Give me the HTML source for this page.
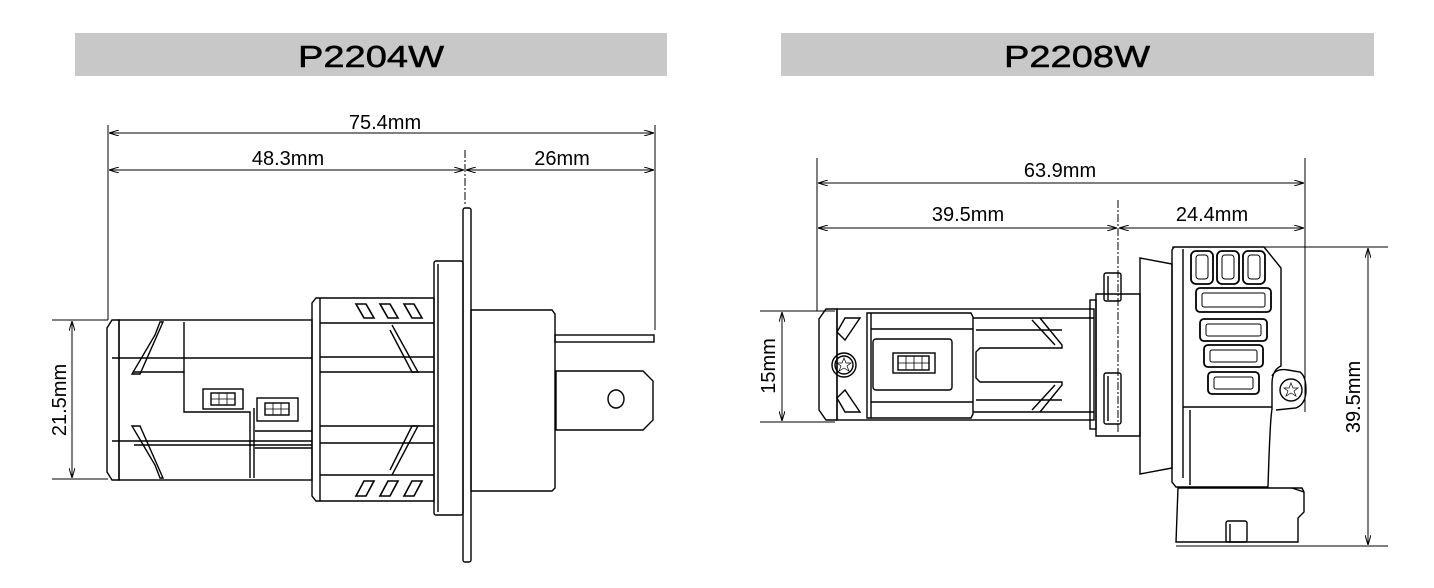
<!DOCTYPE html>
<html><head><meta charset="utf-8"><style>
html,body{margin:0;padding:0;background:#fff}
svg{display:block}
text{font-family:"Liberation Sans",sans-serif;fill:#000}
</style></head><body>
<svg width="1434" height="588" viewBox="0 0 1434 588" xmlns="http://www.w3.org/2000/svg">
<defs>
<marker id="a" viewBox="0 0 10 6" refX="10" refY="3" markerWidth="10" markerHeight="6" orient="auto-start-reverse" markerUnits="userSpaceOnUse"><path d="M0,0 L10,3 L0,6" fill="none" stroke="#000" stroke-width="1"/></marker>
</defs>
<rect x="75" y="33" width="592" height="43" fill="#c8c8c8"/>
<rect x="781" y="33" width="593" height="43" fill="#c8c8c8"/>
<text x="298" y="67" font-size="31" textLength="146" lengthAdjust="spacingAndGlyphs" stroke="#000" stroke-width="0.5">P2204W</text>
<text x="1004" y="67" font-size="31" textLength="146" lengthAdjust="spacingAndGlyphs" stroke="#000" stroke-width="0.5">P2208W</text>

<g stroke="#000" stroke-width="1" fill="none">
<line x1="108" y1="125" x2="108" y2="320"/>
<line x1="655" y1="125" x2="655" y2="330"/>
<line x1="465" y1="150" x2="465" y2="205" stroke-dasharray="8,2,2,2"/>
<line x1="109" y1="133" x2="654" y2="133" marker-start="url(#a)" marker-end="url(#a)"/>
<line x1="109" y1="170" x2="464" y2="170" marker-start="url(#a)" marker-end="url(#a)"/>
<line x1="466" y1="170" x2="654" y2="170" marker-start="url(#a)" marker-end="url(#a)"/>
<line x1="52" y1="320" x2="108" y2="320"/>
<line x1="52" y1="479" x2="108" y2="479"/>
<line x1="72" y1="321" x2="72" y2="478" marker-start="url(#a)" marker-end="url(#a)"/>
<line x1="760" y1="311" x2="835" y2="311"/>
<line x1="760" y1="422" x2="835" y2="422"/>
<line x1="782" y1="312" x2="782" y2="421" marker-start="url(#a)" marker-end="url(#a)"/>
<line x1="817" y1="158" x2="817" y2="311"/>
<line x1="1305" y1="158" x2="1305" y2="412"/>
<line x1="1118" y1="200" x2="1118" y2="432" stroke-dasharray="8,2,2,2"/>
<line x1="818" y1="183" x2="1304" y2="183" marker-start="url(#a)" marker-end="url(#a)"/>
<line x1="818" y1="228" x2="1117" y2="228" marker-start="url(#a)" marker-end="url(#a)"/>
<line x1="1119" y1="228" x2="1304" y2="228" marker-start="url(#a)" marker-end="url(#a)"/>
<line x1="1172" y1="247" x2="1388" y2="247"/>
<line x1="1176" y1="546" x2="1388" y2="546"/>
<line x1="1368" y1="248" x2="1368" y2="545" marker-start="url(#a)" marker-end="url(#a)"/>
</g>

<g stroke="#000" stroke-width="1.4" fill="none">
<path d="M112,320 L119,320 L119,480 L112,480 L107,472 L107,328 Z"/>
<rect x="119" y="320" width="193" height="160"/>
<path d="M155,335 L160,322 L163,322 L140,374 L132,374 Z"/>
<path d="M155,465 L160,478 L163,478 L140,426 L132,426 Z"/>
<line x1="112" y1="358" x2="312" y2="358"/>
<line x1="112" y1="441" x2="312" y2="441"/>
<line x1="134" y1="445" x2="312" y2="445"/>
<path d="M184,322 L184,372 L133,372"/>
<path d="M184,372 L184,412 L250,412 L250,478"/>
<path d="M254,408 L254,478"/>
<line x1="255" y1="431" x2="312" y2="431"/>
<line x1="255" y1="448" x2="312" y2="448"/>
<rect x="203" y="389" width="40" height="20"/>
<rect x="257" y="398" width="41" height="23"/>
<rect x="211" y="393" width="24" height="12"/>
<rect x="265" y="403" width="24" height="12"/>
<path d="M219,393v12M227,393v12M211,399h24M273,403v12M281,403v12M265,409h24" stroke-width="0.8"/>
<path d="M316,298 L434,298 L434,501 L316,501 L312,496 L312,303 Z"/>
<line x1="320" y1="298" x2="320" y2="501"/>
<line x1="320" y1="323" x2="434" y2="323"/>
<line x1="320" y1="475" x2="434" y2="475"/>
<line x1="320" y1="357" x2="434" y2="357"/>
<line x1="320" y1="372" x2="434" y2="372"/>
<line x1="320" y1="426" x2="434" y2="426"/>
<line x1="320" y1="443" x2="434" y2="443"/>
<path d="M392,325 L418,372 L412,372 L390,330"/>
<path d="M392,475 L418,426 L412,426 L390,470"/>
<g stroke-width="1.6">
<path d="M356,304 h10 l8,14 h-10 z"/><path d="M380,304 h10 l8,14 h-10 z"/><path d="M404,304 h10 l8,14 h-10 z"/>
<path d="M364,481 h10 l-8,15 h-10 z"/><path d="M388,481 h10 l-8,15 h-10 z"/><path d="M412,481 h10 l-8,15 h-10 z"/>
</g>
<rect x="434" y="261" width="29" height="254" rx="2"/>
<line x1="438" y1="264" x2="438" y2="512"/>
<rect x="463" y="208" width="8" height="354" rx="2"/>
<path d="M471,310 L552,310 L555,314 L555,488 L552,491 L471,491 Z"/>
<rect x="555" y="335" width="99" height="7"/>
<path d="M556,371 L643,371 L653,381 L653,420 L643,430 L556,430 Z"/>
<ellipse cx="616" cy="399" rx="8" ry="9"/>

<path d="M826,309 L837,309 L837,420 L826,420 L819,410 L819,319 Z"/>
<rect x="837" y="309" width="257" height="111"/>
<path d="M867,313 L971,313 L973,317 L973,414 L971,418 L867,418 Z"/>
<line x1="871" y1="313" x2="871" y2="418"/>
<line x1="871" y1="329" x2="973" y2="329"/>
<line x1="871" y1="402" x2="973" y2="402"/>
<rect x="873" y="339" width="79" height="51" rx="3"/>
<rect x="893" y="353" width="42" height="20"/>
<rect x="898" y="356" width="31" height="14"/>
<path d="M906,356v14M914,356v14M922,356v14M898,363h31" stroke-width="0.8"/>
<path d="M837,332 L845,318 L860,318 L845,340 Z"/>
<path d="M837,398 L845,412 L860,412 L845,390 Z"/>
<circle cx="844" cy="365" r="12"/><circle cx="844" cy="365" r="9"/>
<path d="M844,358 l2,5 5,0 -4,3 2,5 -5,-3 -5,3 2,-5 -4,-3 5,0z" stroke-width="0.7"/>
<line x1="973" y1="318" x2="1094" y2="318"/>
<line x1="973" y1="412" x2="1094" y2="412"/>
<line x1="976" y1="330" x2="1062" y2="330"/>
<line x1="976" y1="400" x2="1062" y2="400"/>
<path d="M1040,318 L1062,345 L1062,348 L980,348 L976,352 L976,378 L980,382 L1062,382 L1062,385 L1040,412"/>
<path d="M1032,320 L1055,345"/><path d="M1032,410 L1055,385"/>
<rect x="1090" y="300" width="6" height="129"/>
<path d="M1096,294 L1140,294 L1140,436 L1096,436 Z"/>
<rect x="1104" y="273" width="17" height="28" rx="2"/>
<rect x="1104" y="373" width="17" height="51" rx="2"/>
<line x1="1108" y1="276" x2="1108" y2="300"/>
<line x1="1108" y1="376" x2="1108" y2="421"/>
<path d="M1140,258 L1172,264 L1172,468 L1140,474 Z"/>
<path d="M1174,247 L1264,247 L1281,268 L1281,366 Q1272,370 1272,384 L1272,409 Q1270,420 1268,487 L1176,487 L1172,482 L1172,250 Z"/>
<line x1="1183" y1="249" x2="1183" y2="478"/>
<line x1="1183" y1="407" x2="1272" y2="407"/>
<line x1="1190" y1="410" x2="1190" y2="485"/>
<path d="M1272,376 Q1276,368 1288,370 L1300,372 Q1306,376 1306,390 Q1306,404 1296,408 L1276,410"/>
<circle cx="1291" cy="390" r="11"/>
<path d="M1291,383 l2,5 5,0 -4,3 2,5 -5,-3 -5,3 2,-5 -4,-3 5,0z" stroke-width="0.7"/>
<path d="M1178,488 L1302,488 L1304,492 L1304,512 L1298,518 L1298,542 L1176,542 Z"/>
<path d="M1292,488 L1304,492"/>
<rect x="1226" y="521" width="21" height="21" rx="2"/>
<line x1="1230" y1="524" x2="1230" y2="542"/>
<g stroke-width="1.8">
<rect x="1191" y="251" width="22" height="33" rx="5"/><rect x="1217" y="251" width="22" height="33" rx="5"/><rect x="1243" y="251" width="22" height="33" rx="5"/>
<rect x="1196" y="255" width="12" height="24" rx="3" stroke-width="1"/><rect x="1222" y="255" width="12" height="24" rx="3" stroke-width="1"/><rect x="1248" y="255" width="12" height="24" rx="3" stroke-width="1"/>
<rect x="1196" y="288" width="75" height="24" rx="4"/><rect x="1202" y="293" width="63" height="14" rx="2" stroke-width="1"/>
<rect x="1200" y="319" width="67" height="22" rx="4"/><rect x="1206" y="324" width="55" height="12" rx="2" stroke-width="1"/>
<rect x="1204" y="345" width="59" height="22" rx="4"/><rect x="1210" y="350" width="47" height="12" rx="2" stroke-width="1"/>
<rect x="1208" y="372" width="51" height="22" rx="4"/><rect x="1214" y="377" width="39" height="12" rx="2" stroke-width="1"/>
</g>
</g>

<g font-size="20">
<text x="385" y="129" text-anchor="middle">75.4mm</text>
<text x="288" y="165" text-anchor="middle">48.3mm</text>
<text x="562" y="165" text-anchor="middle">26mm</text>
<text x="1060" y="177" text-anchor="middle">63.9mm</text>
<text x="968" y="221" text-anchor="middle">39.5mm</text>
<text x="1212" y="221" text-anchor="middle">24.4mm</text>
<text transform="translate(66,400) rotate(-90)" text-anchor="middle">21.5mm</text>
<text transform="translate(775,366) rotate(-90)" text-anchor="middle">15mm</text>
<text transform="translate(1360,397) rotate(-90)" text-anchor="middle">39.5mm</text>
</g>
</svg>
</body></html>
